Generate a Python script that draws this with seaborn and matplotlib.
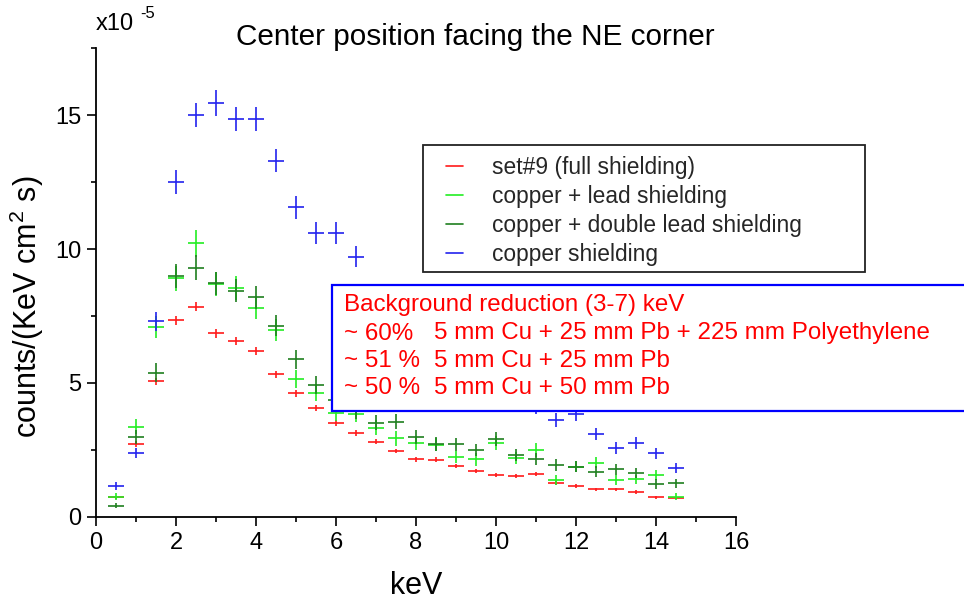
import matplotlib
matplotlib.use("Agg")
import numpy as np
import pandas as pd
import seaborn as sns
import matplotlib.pyplot as plt
from matplotlib.lines import Line2D
from matplotlib.patches import Rectangle
from matplotlib.ticker import MultipleLocator

# Energy bin centres (keV)
energy = [0.5, 1.0, 1.5, 2.0, 2.5, 3.0, 3.5, 4.0, 4.5, 5.0, 5.5, 6.0, 6.5, 7.0, 7.5,
          8.0, 8.5, 9.0, 9.5, 10.0, 10.5, 11.0, 11.5, 12.0, 12.5, 13.0, 13.5, 14.0, 14.5]

# Rates in units of 1e-5 counts/(keV cm^2 s)
full_shielding = [0.73, 2.72, 5.07, 7.34, 7.85, 6.85, 6.58, 6.18, 5.32, 4.62, 4.06, 3.50, 3.12, 2.81, 2.46,
                  2.16, 2.13, 1.90, 1.72, 1.56, 1.53, 1.59, 1.26, 1.16, 1.03, 1.03, 0.93, 0.73, 0.71]
full_shielding_err = [0.05, 0.10, 0.13, 0.16, 0.17, 0.16, 0.15, 0.15, 0.14, 0.13, 0.12, 0.11, 0.11, 0.10, 0.09,
                      0.09, 0.09, 0.08, 0.08, 0.075, 0.075, 0.075, 0.07, 0.065, 0.06, 0.06, 0.06, 0.05, 0.05]

cu_pb = [0.75, 3.37, 7.08, 8.90, 10.21, 8.70, 8.53, 7.81, 6.98, 5.15, 4.64, 3.89, 3.85, 3.33, 2.93,
         2.75, 2.70, 2.25, 2.15, 2.75, 2.19, 2.50, 1.38, 1.88, 2.03, 1.38, 1.40, 1.57, 0.76]
cu_pb_err = [0.13, 0.28, 0.41, 0.46, 0.50, 0.46, 0.45, 0.43, 0.41, 0.35, 0.33, 0.31, 0.30, 0.28, 0.27,
             0.26, 0.25, 0.23, 0.23, 0.26, 0.23, 0.25, 0.18, 0.21, 0.22, 0.18, 0.18, 0.19, 0.13]

cu_double_pb = [0.42, 3.00, 5.38, 9.00, 9.30, 8.72, 8.45, 8.20, 7.14, 5.88, 4.93, 4.37, 3.95, 3.52, 3.56,
                3.00, 2.72, 2.71, 2.50, 2.90, 2.31, 2.15, 1.94, 1.88, 1.69, 1.78, 1.65, 1.23, 1.26]
cu_double_pb_err = [0.10, 0.26, 0.35, 0.45, 0.46, 0.44, 0.44, 0.43, 0.40, 0.36, 0.33, 0.31, 0.31, 0.28, 0.28,
                    0.26, 0.25, 0.25, 0.24, 0.26, 0.23, 0.22, 0.21, 0.21, 0.20, 0.20, 0.19, 0.17, 0.17]

cu_only = [1.16, 2.39, 7.30, 12.50, 15.00, 15.45, 14.85, 14.85, 13.30, 11.55, 10.60, 10.60, 9.72, 8.00, 7.30,
           6.60, 6.10, 5.60, 5.30, 5.20, 4.70, 4.10, 3.62, 3.85, 3.10, 2.57, 2.75, 2.38, 1.83]
cu_only_err = [0.14, 0.20, 0.35, 0.44, 0.46, 0.47, 0.46, 0.46, 0.44, 0.42, 0.40, 0.40, 0.38, 0.36, 0.34,
               0.33, 0.32, 0.30, 0.30, 0.29, 0.28, 0.27, 0.25, 0.26, 0.23, 0.21, 0.22, 0.20, 0.18]

bin_half_width = 0.2

series_names = ["set#9 (full shielding)", "copper + lead shielding",
                "copper + double lead shielding", "copper shielding"]
series_values = [full_shielding, cu_pb, cu_double_pb, cu_only]
series_errors = [full_shielding_err, cu_pb_err, cu_double_pb_err, cu_only_err]
series_colors = ["#ff1a1a", "#22ee22", "#1f7f1f", "#2222ee"]

df = pd.concat([
    pd.DataFrame({"keV": energy, "rate": v, "err": e, "setup": n})
    for n, v, e in zip(series_names, series_values, series_errors)
], ignore_index=True)

reduction_title = "Background reduction (3-7) keV"
reduction_pct = ["~ 60%", "~ 51 %", "~ 50 %"]
reduction_setup = ["5 mm Cu + 25 mm Pb + 225 mm Polyethylene",
                   "5 mm Cu + 25 mm Pb",
                   "5 mm Cu + 50 mm Pb"]

sns.set_theme(style="ticks")
plt.rcParams["font.family"] = ["Liberation Sans", "DejaVu Sans"]
plt.rcParams["mathtext.fontset"] = "custom"
plt.rcParams["mathtext.rm"] = "Liberation Sans"

fig = plt.figure(figsize=(9.64, 6.07), dpi=100)
ax = fig.add_axes([0.0996, 0.1483, 0.6639, 0.7726])

palette = dict(zip(series_names, series_colors))
for name, grp in df.groupby("setup", sort=False):
    ax.errorbar(grp["keV"], grp["rate"], yerr=grp["err"], xerr=bin_half_width,
                fmt="none", ecolor=palette[name], elinewidth=1.2, capsize=0)

ax.set_xlim(0, 16)
ax.set_ylim(0, 17.5)
ax.xaxis.set_major_locator(MultipleLocator(2))
ax.xaxis.set_minor_locator(MultipleLocator(1))
ax.yaxis.set_major_locator(MultipleLocator(5))
ax.yaxis.set_minor_locator(MultipleLocator(2.5))
ax.tick_params(axis="both", which="major", direction="out", length=6.5, width=1.2,
               labelsize=17, color="black", labelcolor="black", pad=4)
ax.tick_params(axis="both", which="minor", direction="out", length=3.8, width=1.2, color="black")
sns.despine(ax=ax)
for side in ("left", "bottom"):
    ax.spines[side].set_linewidth(1.3)
    ax.spines[side].set_color("black")

ax.set_xlabel("keV", fontsize=22, color="black")
ax.xaxis.set_label_coords(0.5, -0.115)
ax.set_ylabel("counts/(KeV cm$^2$ s)", fontsize=22, color="black")
ax.yaxis.set_label_coords(-0.078, 0.448)

# Axis scale factor
fig.text(96 / 964, 1 - 24 / 607, "x10", fontsize=17, ha="left", va="center", color="black")
fig.text(140 / 964, 1 - 13 / 607, "-5", fontsize=12, ha="left", va="center", color="black")

fig.text(475 / 964, 1 - 37 / 607, "Center position facing the NE corner",
         fontsize=21.4, ha="center", va="center", color="black")

# Legend with a hand-drawn frame (wider than its entries)
legend_frame = Rectangle((423 / 964, 1 - 272 / 607), (865 - 423) / 964, (272 - 145) / 607,
                         transform=fig.transFigure, facecolor="white", edgecolor="#222222",
                         linewidth=1.3, zorder=3, clip_on=False)
ax.add_patch(legend_frame)
handles = [Line2D([0], [0], color=c, lw=1.2) for c in series_colors]
leg = ax.legend(handles, series_names, loc="upper left",
                bbox_to_anchor=(446 / 964, 1 - 156 / 607), bbox_transform=fig.transFigure,
                fontsize=16.4, frameon=False,
                handlelength=0.75, handletextpad=1.25, labelspacing=0.26,
                borderpad=0.0, borderaxespad=0)
leg.set_zorder(6)

# Reduction summary panel
panel = Rectangle((332 / 964, 1 - 411 / 607), 0.75, 126 / 607, transform=fig.transFigure,
                  facecolor="white", edgecolor="#0000ff", linewidth=1.6, zorder=5,
                  clip_on=False)
fig.add_artist(panel)
fig.text(344 / 964, 1 - 305 / 607, reduction_title, fontsize=17.4, color="#ff0000",
         ha="left", va="center", zorder=6)
for i, (pct, setup) in enumerate(zip(reduction_pct, reduction_setup)):
    y = 1 - (333.5 + 27.3 * i) / 607
    fig.text(344 / 964, y, pct, fontsize=17.4, color="#ff0000", ha="left", va="center", zorder=6)
    fig.text(434 / 964, y, setup, fontsize=17.4, color="#ff0000", ha="left", va="center", zorder=6)

fig.savefig("out.png", dpi=100, facecolor="white")
